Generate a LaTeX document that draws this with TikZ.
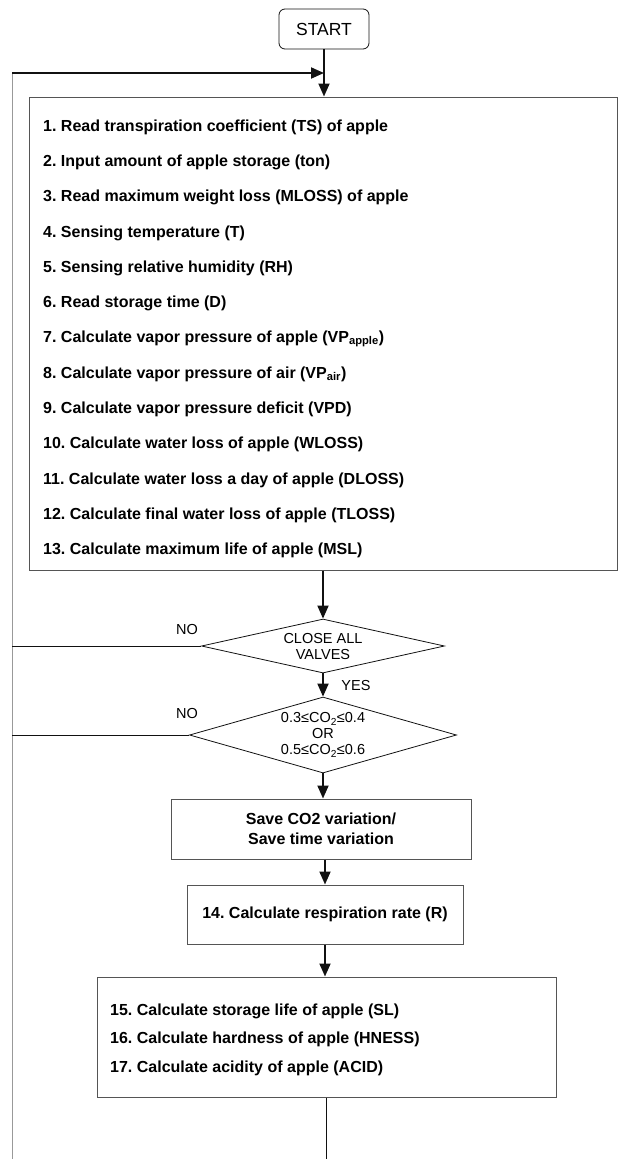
\documentclass[tikz,border=0pt]{standalone}
\usepackage{fontspec}
\setmainfont{Liberation Sans}
\frenchspacing
\definecolor{FlowLine}{HTML}{111111}
\definecolor{FlowEdge}{HTML}{555555}
\definecolor{FlowLoop}{HTML}{999999}
\usetikzlibrary{arrows.meta,positioning,shapes.geometric}
\tikzset{
  startbox/.style={draw=FlowLine, rounded corners=6pt, align=center, minimum width=90pt, minimum height=40pt, line width=0.8pt, font=\fontsize{17.5}{20}\selectfont},
  stepbox/.style={draw=FlowEdge, line width=1pt, inner sep=0pt},
  midbox/.style={draw=FlowEdge, line width=1pt, align=center, font=\bfseries\fontsize{16}{20}\selectfont},
  item/.style={anchor=west, inner sep=0pt, font=\bfseries\fontsize{16}{18}\selectfont},
  test/.style={draw=FlowLine, diamond, inner sep=0pt, align=center, line width=0.8pt, font=\fontsize{14.5}{16}\selectfont},
  arrow/.style={-{Triangle[length=13pt,width=11pt]}, line width=1.8pt, FlowLine},
  back/.style={line width=0.8pt, FlowLine},
  label/.style={font=\fontsize{14.5}{17}\selectfont}
}

\begin{document}
\begin{tikzpicture}[x=1pt, y=-1pt]
    \useasboundingbox (0,0) rectangle (619,1159);

    \node[startbox] (start) at (324,29) {START};
    \node[stepbox, minimum width=588pt, minimum height=473pt] (steps) at (323,333.5) {};
    \foreach \txt [count=\i] in {
      {1. Read transpiration coefficient (TS) of apple},
      {2. Input amount of apple storage (ton)},
      {3. Read maximum weight loss (MLOSS) of apple},
      {4. Sensing temperature (T)},
      {5. Sensing relative humidity (RH)},
      {6. Read storage time (D)},
      {7. Calculate vapor pressure of apple (VP\textsubscript{apple})},
      {8. Calculate vapor pressure of air (VP\textsubscript{air})},
      {9. Calculate vapor pressure deficit (VPD)},
      {10. Calculate water loss of apple (WLOSS)},
      {11. Calculate water loss a day of apple (DLOSS)},
      {12. Calculate final water loss of apple (TLOSS)},
      {13. Calculate maximum life of apple (MSL)}}
      \node[item] (s\i) at (43,{127+35.3*(\i-1)}) {\txt};

    \node[test, shape aspect=4.5, minimum width=243pt, minimum height=54pt] (valves) at (323,646) {CLOSE ALL\\VALVES};
    \node[test, shape aspect=3.5, minimum width=267pt, minimum height=76pt] (co2) at (323,735) {0.3≤CO\textsubscript{2}≤0.4\\OR\\0.5≤CO\textsubscript{2}≤0.6};
    \node[midbox, minimum width=300pt, minimum height=60pt] (save) at (321,829) {Save CO2 variation/\\Save time variation};
    \node[midbox, minimum width=276pt, minimum height=59pt] (rate) at (325,914.5) {14. Calculate respiration rate (R)};
    \node[stepbox, minimum width=459pt, minimum height=120pt] (calc) at (326.5,1037) {};
    \node[item] (s15) at (110,1011) {15. Calculate storage life of apple (SL)};
    \node[item] (s16) at (110,1039.5) {16. Calculate hardness of apple (HNESS)};
    \node[item] (s17) at (110,1068) {17. Calculate acidity of apple (ACID)};

    \node[label] (no1) at (187,630) {NO};
    \node[label] (yes) at (356,685) {YES};
    \node[label] (no2) at (187,713) {NO};

    \coordinate (loopTop) at (12,73);
    \coordinate (loopEnd) at (12,1159);

    \draw[FlowLoop, line width=1pt] (loopEnd) -- (loopTop);
    \draw[arrow] (loopTop) -- (start.south |- loopTop);
    \draw[arrow] (start.south) -- (start.south |- steps.north);
    \draw[arrow] (steps.south) -- (valves.north);
    \draw[back] (valves.west) -- (valves.west -| loopTop);
    \draw[arrow] (valves.south) -- (co2.north);
    \draw[back] (co2.west) -- (co2.west -| loopTop);
    \draw[arrow] (co2.south) -- (save.north -| co2.south);
    \draw[arrow] (save.south -| rate.north) -- (rate.north);
    \draw[arrow] (rate.south) -- (rate.south |- calc.north);
    \draw[back] (calc.south) -- (calc.south |- loopEnd);
  \end{tikzpicture}
\end{document}
